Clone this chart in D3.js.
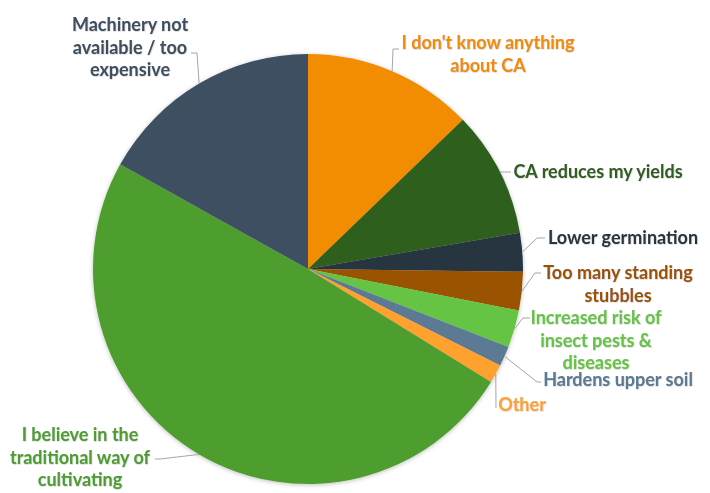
<!DOCTYPE html>
<html lang="en">
  <head>
    <meta charset="utf-8" />
    <script src="https://d3js.org/d3.v7.min.js"></script>
    <style>
      body { margin: 0; background: #fff; }
      .lbl { font-family: Lato, "Open Sans", sans-serif; font-weight: bold; font-size: 18px; }
      .leader { fill: none; stroke: #a6a6a6; stroke-width: 1; }
    </style>
    <title>Reasons for not adopting CA</title>
  </head>
  <body>
    <svg id="pie" width="710" height="493"></svg>

    <script>
      // slices clockwise from 12 o'clock, values in percent
      const categories = [
        "I don't know anything about CA",
        "CA reduces my yields",
        "Lower germination",
        "Too many standing stubbles",
        "Increased risk of insect pests & diseases",
        "Hardens upper soil",
        "Other",
        "I believe in the traditional way of cultivating",
        "Machinery not available / too expensive",
      ];
      const values = [12.8, 9.5, 2.9, 2.9, 2.8, 1.5, 1.4, 49.3, 16.9];
      const colors = [
        "#f28c00", "#2f5f1f", "#263441", "#9a5200", "#66c444",
        "#5b7a94", "#ffa12e", "#4e9e2f", "#3c5060",
      ];
      const labelLines = [
        ["I don't know anything", "about CA"],
        ["CA reduces my yields"],
        ["Lower germination"],
        ["Too many standing", "stubbles"],
        ["Increased risk of", "insect pests &", "diseases"],
        ["Hardens upper soil"],
        ["Other"],
        ["I believe in the", "traditional way of", "cultivating"],
        ["Machinery not", "available / too", "expensive"],
      ];

      // label layout: text centre x, first baseline, and leader bend points
      const labelPos = [
        { x: 488, y: 49, pts: [[393, 49], [399, 49]] },
        { x: 598, y: 178, pts: [[505, 172], [511, 172]] },
        { x: 623, y: 244, pts: [[537, 238], [545, 238]] },
        { x: 618, y: 279, pts: [[535, 273], [541, 273]] },
        { x: 596, y: 324, pts: [[523, 318], [530, 318]] },
        { x: 618, y: 386, pts: [[537, 382], [541, 382]] },
        { x: 522, y: 411, pts: [[496, 408]] },
        { x: 80, y: 441, pts: [[160, 459], [155, 459]] },
        { x: 130, y: 31, pts: [[197, 53], [191, 53]] },
      ];

      const svg = d3.select("svg#pie");
      const cx = 308, cy = 269, r = 215;
      const lineH = 22.5;

      const defs = svg.append("defs");
      defs.append("filter").attr("id", "pieShadow")
        .attr("x", "-10%").attr("y", "-10%").attr("width", "120%").attr("height", "120%")
        .append("feDropShadow")
        .attr("dx", 0).attr("dy", 1).attr("stdDeviation", 2)
        .attr("flood-color", "#000").attr("flood-opacity", 0.25);
      defs.append("filter").attr("id", "txtShadow")
        .append("feDropShadow")
        .attr("dx", 0.5).attr("dy", 0.5).attr("stdDeviation", 0.6)
        .attr("flood-color", "#888").attr("flood-opacity", 0.5);

      const data = categories.map((c, i) => ({
        name: c, value: values[i], color: colors[i], i: i,
      }));

      const pie = d3.pie().sort(null).value(d => d.value);
      const arcs = pie(data);
      const arc = d3.arc().innerRadius(0).outerRadius(r);
      const edgeArc = d3.arc().innerRadius(r).outerRadius(r);

      const g = svg.append("g").attr("transform", `translate(${cx},${cy})`);

      g.append("g")
        .attr("filter", "url(#pieShadow)")
        .selectAll("path")
        .data(arcs)
        .join("path")
        .attr("d", arc)
        .attr("fill", d => d.data.color);

      // leader lines from the slice edge (mid angle) to the label
      svg.selectAll("polyline.leader")
        .data(arcs)
        .join("polyline")
        .attr("class", "leader")
        .attr("points", d => {
          const c = edgeArc.centroid(d);
          const start = [cx + c[0], cy + c[1]];
          return [start].concat(labelPos[d.data.i].pts).map(p => p.join(",")).join(" ");
        });

      const labels = svg.selectAll("text.lbl")
        .data(arcs)
        .join("text")
        .attr("class", "lbl")
        .attr("filter", "url(#txtShadow)")
        .attr("text-anchor", "middle")
        .attr("fill", d => d.data.color);

      labels.each(function (d) {
        const p = labelPos[d.data.i];
        d3.select(this)
          .selectAll("tspan")
          .data(labelLines[d.data.i])
          .join("tspan")
          .attr("x", p.x)
          .attr("y", (t, k) => p.y + k * lineH)
          .text(t => t);
      });
    </script>
  </body>
</html>
